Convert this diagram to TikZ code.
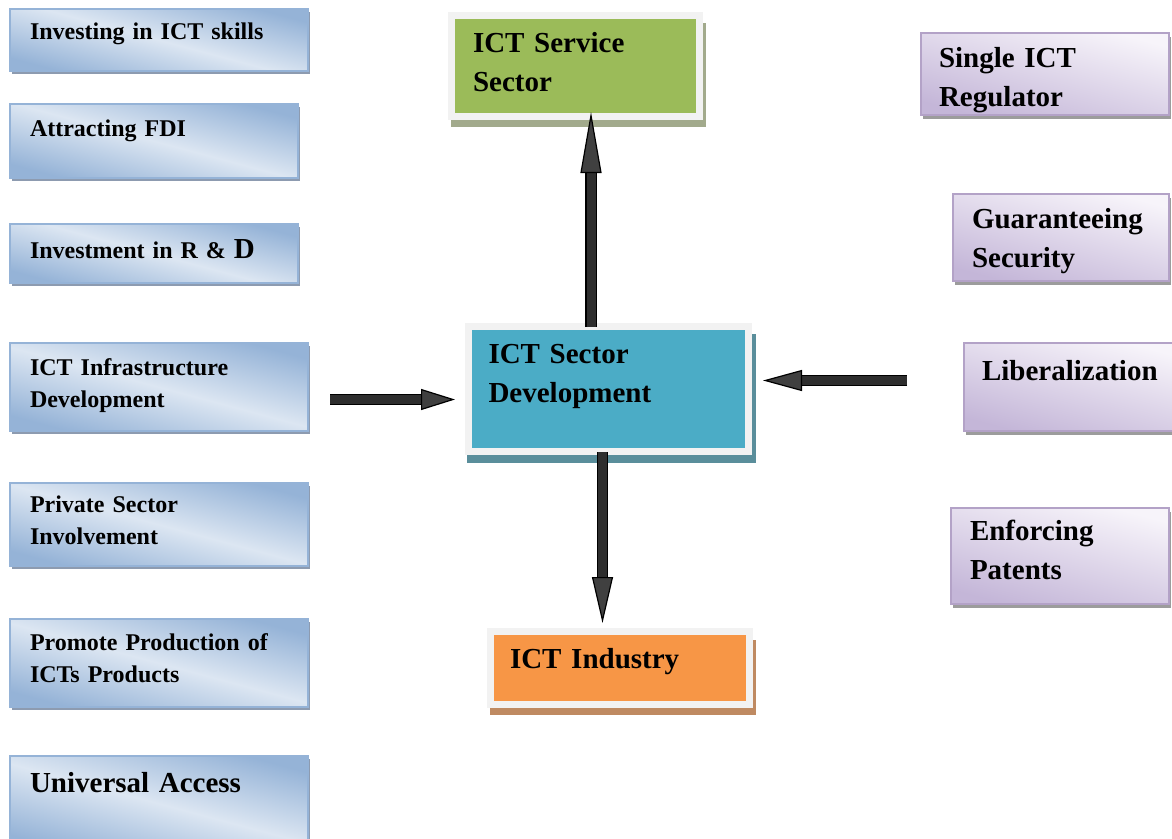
\documentclass[tikz,border=0pt]{standalone}
\usepackage{xcolor}
\usepackage{fontspec}
\setmainfont{Liberation Serif}
\usepackage{tikz}
\usetikzlibrary{shadows,arrows.meta}
\tikzset{every shadow/.style={}}

\definecolor{leftblue}{HTML}{95B3D7}
\definecolor{leftpale}{HTML}{DCE6F2}
\definecolor{leftshadow}{HTML}{8D9BB0}
\definecolor{rightlav}{HTML}{C4B6D8}
\definecolor{rightpale}{HTML}{F7F4FA}
\definecolor{rightedge}{HTML}{B3A2C7}
\definecolor{rightshadow}{HTML}{9C9C9C}
\definecolor{framegray}{HTML}{F2F2F2}
\definecolor{devteal}{HTML}{4BACC6}
\definecolor{devshadow}{HTML}{5A8E9B}
\definecolor{svcgreen}{HTML}{9BBB59}
\definecolor{svcshadow}{HTML}{A2AA8C}
\definecolor{indorange}{HTML}{F79646}
\definecolor{indshadow}{HTML}{BF8A62}

\tikzset{
  leftbox/.style={draw=leftblue, line width=2pt, anchor=north west, align=left,
    top color=leftblue, bottom color=leftblue, middle color=leftpale, shading angle=-15,
    inner xsep=20pt, inner ysep=0pt, text height=32pt,
    font=\bfseries\fontsize{24}{32}\selectfont,
    drop shadow={shadow xshift=2pt, shadow yshift=-3pt, opacity=1, fill=leftshadow}},
  rightbox/.style={draw=rightedge, line width=2pt, anchor=north west, align=left,
    top color=rightpale, bottom color=rightlav, shading angle=-15,
    inner xsep=19pt, inner ysep=0pt,
    font=\bfseries\fontsize{29}{39.5}\selectfont,
    drop shadow={shadow xshift=2pt, shadow yshift=-4pt, opacity=1, fill=rightshadow}},
  framebox/.style={draw=framegray, line width=7pt, anchor=north west, align=left,
    inner xsep=20pt, inner ysep=0pt,
    font=\bfseries\fontsize{29}{39.5}\selectfont},
  frameshadow/.style={drop shadow={shadow xshift=3pt, shadow yshift=-9pt,
    shadow scale=1.03, opacity=1, fill=#1}},
  fatarrow/.style={draw=black, line width=1.2pt, double=black!82, double distance=9pt,
    -{Triangle[length=#1, width=21pt, fill=black!75]}}
}

\begin{document}
\begin{tikzpicture}[x=1pt, y=-1pt]
  \useasboundingbox (0,0) rectangle (1172,838);
  \clip (0,0) rectangle (1172,838);

  % Left column of policy boxes
  \node[leftbox, text width=258pt, text height=30pt, text depth=32pt] (skills) at (9,8) {Investing in ICT skills};
  \node[leftbox, text width=248pt, text depth=42pt] (fdi) at (9,103) {Attracting FDI};
  \node[leftbox, text width=248pt, text height=34pt, text depth=25pt] (rnd) at (9,223) {Investment in R \& {\fontsize{29}{32}\selectfont D}};
  \node[leftbox, text width=258pt, text depth=56pt] (infra) at (9,342) {ICT Infrastructure\\Development};
  \node[leftbox, text width=258pt, text height=29pt, text depth=54pt] (private) at (9,482) {Private Sector\\Involvement};
  \node[leftbox, text width=258pt, text height=31pt, text depth=57pt] (production) at (9,618) {Promote Production of\\ICTs Products};
  \node[leftbox, text width=258pt, text height=36pt, text depth=59pt, font=\bfseries\fontsize{29}{37}\selectfont] (access) at (9,755) {Universal Access};

  % Centre column
  \node[framebox, fill=devteal, frameshadow=devshadow, text width=240pt, text height=36.5pt, text depth=88.5pt] (dev) at (465,323) {ICT Sector\\Development};
  \node[framebox, fill=svcgreen, frameshadow=svcshadow, inner xsep=21.5pt, text width=205pt, text height=36.5pt, text depth=64.5pt] (svc) at (448,12) {ICT Service\\Sector};
  \node[framebox, fill=indorange, frameshadow=indshadow, inner xsep=19.5pt, text width=220pt, text height=36.5pt, text depth=36.5pt] (ind) at (487,628) {ICT Industry};

  % Right column of regulation boxes
  \node[rightbox, inner xsep=18pt, text width=212pt, text height=34pt, text depth=48pt] (regulator) at (920,32) {Single ICT\\Regulator};
  \node[rightbox, text width=178pt, text height=34pt, text depth=53pt] (security) at (952,193) {Guaranteeing\\Security};
  \node[rightbox, inner xsep=18pt, text width=180pt, text height=37pt, text depth=51pt] (liberal) at (963,342) {Liberalization};
  \node[rightbox, text width=180pt, text height=32pt, text depth=64pt] (patents) at (950,507) {Enforcing\\Patents};

  % Connect nodes with block arrows
  \draw[fatarrow=34pt, shorten <=21pt, shorten >=10pt] ([yshift=-12.5pt]infra.east) -- ([yshift=-12.5pt]infra.east -| dev.west);
  \draw[fatarrow=39pt, shorten <=56pt, shorten >=11pt] ([yshift=6.5pt]liberal.west) -- ([yshift=6.5pt]liberal.west -| dev.east);
  \draw[fatarrow=61pt, shorten <=-4pt, shorten >=-8pt] ([xshift=-17.5pt]dev.north) -- ([xshift=-17.5pt]dev.north |- svc.south);
  \draw[fatarrow=46pt, shorten <=-3pt, shorten >=5pt] ([xshift=-6pt]dev.south) -- ([xshift=-6pt]dev.south |- ind.north);
\end{tikzpicture}
\end{document}
